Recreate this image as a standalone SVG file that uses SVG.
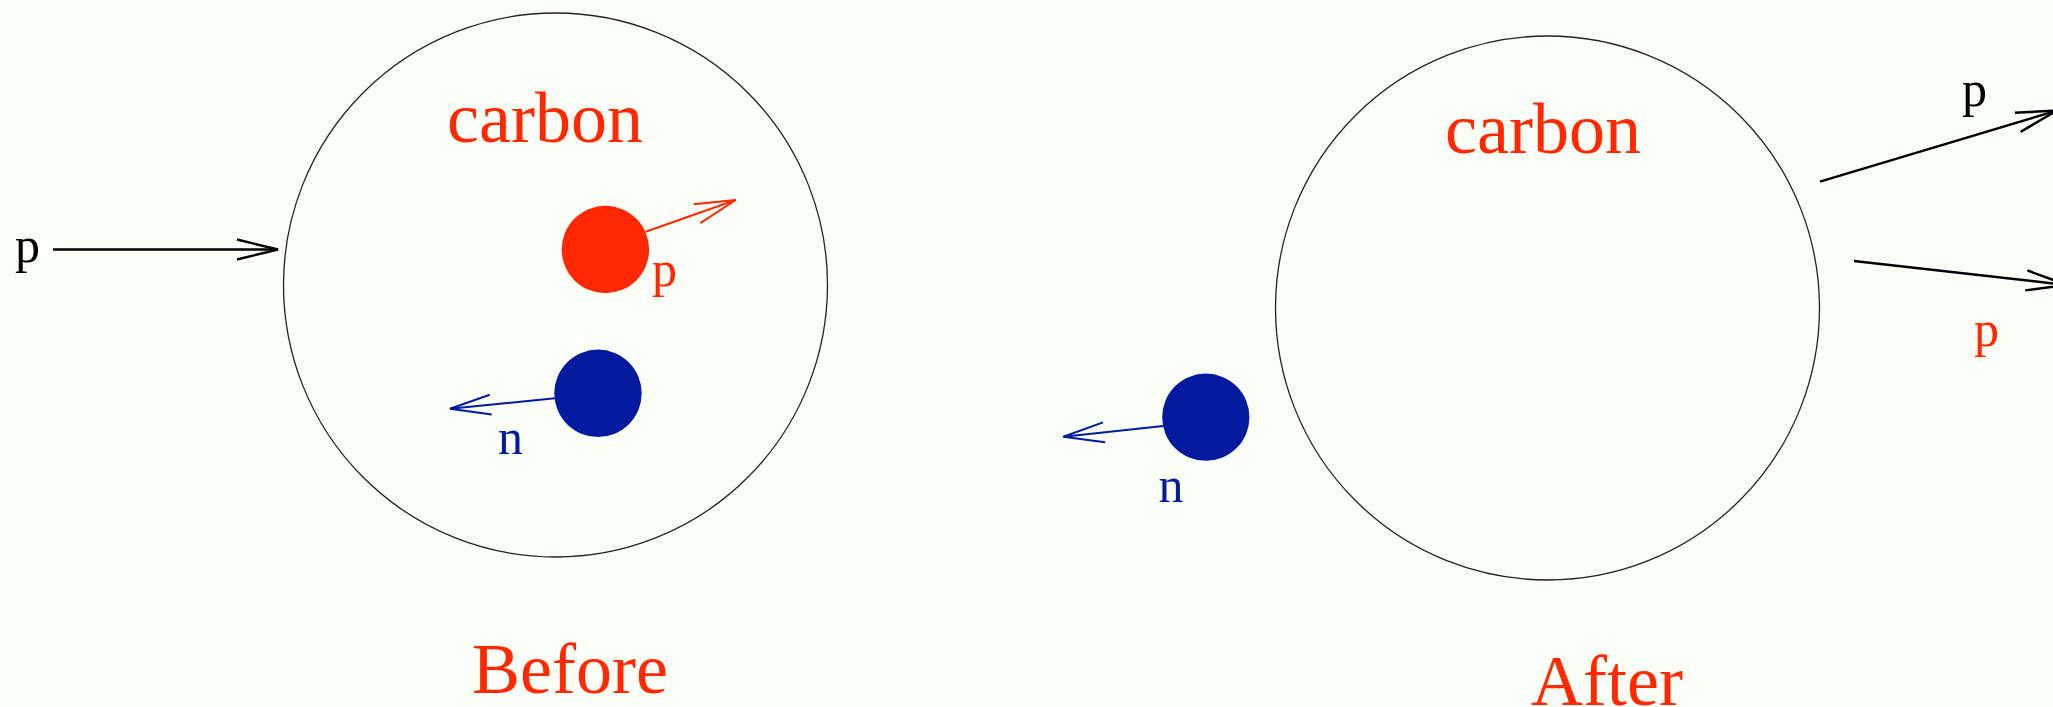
<svg xmlns="http://www.w3.org/2000/svg" width="2053" height="707" viewBox="0 0 2053 707">
<style>
.bg{fill:#fbfef6}
.nucleus{fill:none;stroke:#222;stroke-width:1.3}
.lbl{font-family:"Liberation Serif","Times New Roman",serif}
.big{font-size:72px;fill:#ff2800}
.sm{font-size:50px}
.red{fill:#ff2800}
.blue{fill:#031a9e}
.blk{fill:#000}
.ar{fill:none;stroke-width:2.4}
.ar-k{stroke:#000;marker-end:url(#mk)}
.ar-r{stroke:#ff2800;stroke-width:2;marker-end:url(#mr)}
.ar-b{stroke:#031a9e;stroke-width:2;marker-end:url(#mb)}
</style>
<defs>
<marker id="mk" markerUnits="userSpaceOnUse" markerWidth="60" markerHeight="30" refX="0" refY="0" orient="auto" overflow="visible"><path d="M-41,-10 L0,0 L-41,10" fill="none" stroke="#000" stroke-width="2.4"/></marker>
<marker id="mr" markerUnits="userSpaceOnUse" markerWidth="60" markerHeight="30" refX="0" refY="0" orient="auto" overflow="visible"><path d="M-41,-10 L0,0 L-41,10" fill="none" stroke="#ff2800" stroke-width="2"/></marker>
<marker id="mb" markerUnits="userSpaceOnUse" markerWidth="60" markerHeight="30" refX="0" refY="0" orient="auto" overflow="visible"><path d="M-41,-10 L0,0 L-41,10" fill="none" stroke="#031a9e" stroke-width="2"/></marker>
</defs>
<rect class="bg" x="0" y="0" width="2053" height="707"/>

<g id="before-nucleus">
<circle class="nucleus" cx="555.5" cy="285" r="272"/>
<text class="lbl big" x="447" y="142">carbon</text>
</g>
<g id="before-proton">
<circle class="red" cx="605.4" cy="249.5" r="43.7"/>
<text class="lbl sm red" x="652" y="286">p</text>
</g>
<g id="before-neutron">
<circle class="blue" cx="598" cy="393.3" r="43.7"/>
<text class="lbl sm blue" x="498" y="453.5">n</text>
</g>
<g id="incoming-proton">
<text class="lbl sm blk" x="15" y="261.5">p</text>
</g>
<g id="label-before">
<text class="lbl big" x="472" y="693">Before</text>
</g>

<g id="after-nucleus">
<circle class="nucleus" cx="1547.5" cy="308" r="272"/>
<text class="lbl big" x="1445" y="153">carbon</text>
</g>
<g id="after-neutron">
<circle class="blue" cx="1205.8" cy="417.2" r="43.6"/>
<text class="lbl sm blue" x="1158.5" y="501.7">n</text>
</g>
<g id="outgoing-protons">
<text class="lbl sm blk" x="1962" y="106">p</text>
<text class="lbl sm red" x="1974" y="346">p</text>
</g>
<g id="label-after">
<text class="lbl big" x="1531" y="705">After</text>
</g>

<g id="connectors">
<line class="ar ar-k" x1="53" y1="249.5" x2="278" y2="249.5"/>
<line class="ar ar-r" x1="645.7" y1="231.7" x2="735.7" y2="200"/>
<line class="ar ar-b" x1="555" y1="398.3" x2="450" y2="408.7"/>
<line class="ar ar-b" x1="1163.3" y1="426" x2="1063.3" y2="436.7"/>
<line class="ar ar-k" x1="1820" y1="181.7" x2="2057" y2="110.5"/>
<line class="ar ar-k" x1="1854" y1="261" x2="2067" y2="285"/>
</g>
</svg>
